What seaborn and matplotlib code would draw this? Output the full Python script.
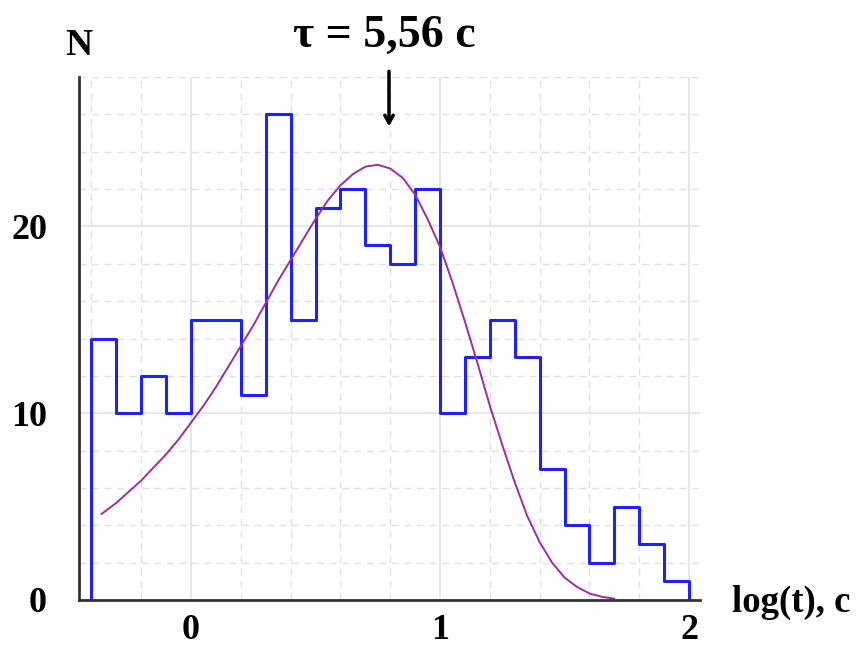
import numpy as np
import pandas as pd
import matplotlib
matplotlib.use("Agg")
import matplotlib.pyplot as plt
import seaborn as sns

# ---- data ----
bin_edges = [-0.4, -0.3, -0.2, -0.1, 0.0, 0.1, 0.2, 0.3, 0.4, 0.5, 0.6, 0.7, 0.8,
             0.9, 1.0, 1.1, 1.2, 1.3, 1.4, 1.5, 1.6, 1.7, 1.8, 1.9, 2.0]
counts = [14, 10, 12, 10, 15, 15, 11, 26, 15, 21, 22, 19, 18, 22,
          10, 13, 15, 13, 7, 4, 2, 5, 3, 1]

fit_x = [-0.36, -0.3, -0.25, -0.2, -0.15, -0.1, -0.05, 0.0, 0.05, 0.1, 0.15, 0.2,
         0.25, 0.3, 0.35, 0.4, 0.45, 0.5, 0.55, 0.6, 0.65, 0.7, 0.75, 0.8, 0.85,
         0.9, 0.95, 1.0, 1.05, 1.1, 1.15, 1.2, 1.25, 1.3, 1.35, 1.4, 1.45, 1.5,
         1.55, 1.6, 1.65, 1.7]
fit_y = [4.6, 5.2, 5.8, 6.4, 7.1, 7.8, 8.6, 9.5, 10.4, 11.4, 12.5, 13.6,
         14.7, 15.9, 17.1, 18.2, 19.3, 20.4, 21.4, 22.2, 22.8, 23.2, 23.3, 23.1, 22.6,
         21.7, 20.4, 18.9, 17.0, 14.9, 12.7, 10.4, 8.3, 6.3, 4.5, 3.1, 2.0, 1.2,
         0.7, 0.35, 0.17, 0.07]

x_major = [0, 1, 2]
x_minor = [-0.4, -0.2, 0.2, 0.4, 0.6, 0.8, 1.2, 1.4, 1.6, 1.8]
y_major = [0, 10, 20]
y_minor = [2, 4, 6, 8, 12, 14, 16, 18, 22, 24, 26, 28]

title_text = "τ = 5,56 c"
tau_pos = 0.795
xlabel_text = "log(t), c"
ylabel_text = "N"

# ---- style ----
sns.set_style("white")
plt.rcParams["font.family"] = ["Liberation Serif", "DejaVu Serif"]
plt.rcParams["font.weight"] = "bold"
plt.rcParams["text.color"] = "black"
plt.rcParams["xtick.labelcolor"] = "black"
plt.rcParams["ytick.labelcolor"] = "black"

W, H = 856, 655
fig = plt.figure(figsize=(W / 100, H / 100), dpi=100)
ax = fig.add_axes([79 / W, 1 - 600 / H, (700 - 79) / W, (600 - 77) / H])

hist_color = "#1f1fff"
centers = [(bin_edges[i] + bin_edges[i + 1]) / 2 for i in range(len(counts))]
df = pd.DataFrame({"x": centers, "n": counts})
sns.histplot(data=df, x="x", weights="n", bins=bin_edges, element="step",
             fill=False, color=hist_color, linewidth=2.2, ax=ax)
# closing edges of the step outline down to zero
ax.vlines([bin_edges[0], bin_edges[-1]], 0, [counts[0], counts[-1]],
          color=hist_color, linewidth=2.2)
sns.lineplot(x=fit_x, y=fit_y, color="#9b2f9b", linewidth=1.4, ax=ax)

ax.set_xlim(-0.45, 2.044)
ax.set_ylim(0, 28)
ax.set_xlabel("")
ax.set_ylabel("")

ax.set_xticks(x_major)
ax.set_xticks(x_minor, minor=True)
ax.set_yticks(y_major)
ax.set_yticks(y_minor, minor=True)
ax.set_xticklabels([str(v) for v in x_major])
ax.set_yticklabels([str(v) for v in y_major])

ax.grid(which="major", color="#e3e3e3", linestyle="-", linewidth=1.2)
ax.grid(which="minor", color="#e0e0e0", linestyle=(0, (5, 4)), linewidth=1.0)
ax.set_axisbelow(True)

for s in ["top", "right"]:
    ax.spines[s].set_visible(False)
for s in ["left", "bottom"]:
    ax.spines[s].set_color("#333333")
    ax.spines[s].set_linewidth(2)

ax.tick_params(axis="both", which="major", length=9, width=2, color="#333333",
               labelsize=26, direction="out", labelcolor="black")
ax.tick_params(axis="both", which="minor", length=4, width=1.5, color="#333333",
               direction="out")
ax.tick_params(axis="x", which="major", pad=1)
ax.tick_params(axis="y", which="major", pad=14)
for lab in ax.get_xticklabels() + ax.get_yticklabels():
    lab.set_fontweight("bold")

fig.text(65 / W, 1 - 55 / H, ylabel_text, fontsize=27, fontweight="bold",
         ha="left", va="baseline", color="black")
fig.text(732 / W, 1 - 612 / H, xlabel_text, fontsize=26.5, fontweight="bold",
         ha="left", va="baseline", color="black")
fig.text(384 / W, 1 - 47 / H, title_text, fontsize=33, fontweight="bold",
         ha="center", va="baseline", color="black")

ax.annotate("", xy=(tau_pos, 25.35), xytext=(tau_pos, 28.3),
            xycoords="data", textcoords="data", annotation_clip=False,
            arrowprops=dict(arrowstyle="->,head_length=0.55,head_width=0.3",
                            color="black", linewidth=2.5, shrinkA=0, shrinkB=0))

fig.savefig("out.png", dpi=100)
